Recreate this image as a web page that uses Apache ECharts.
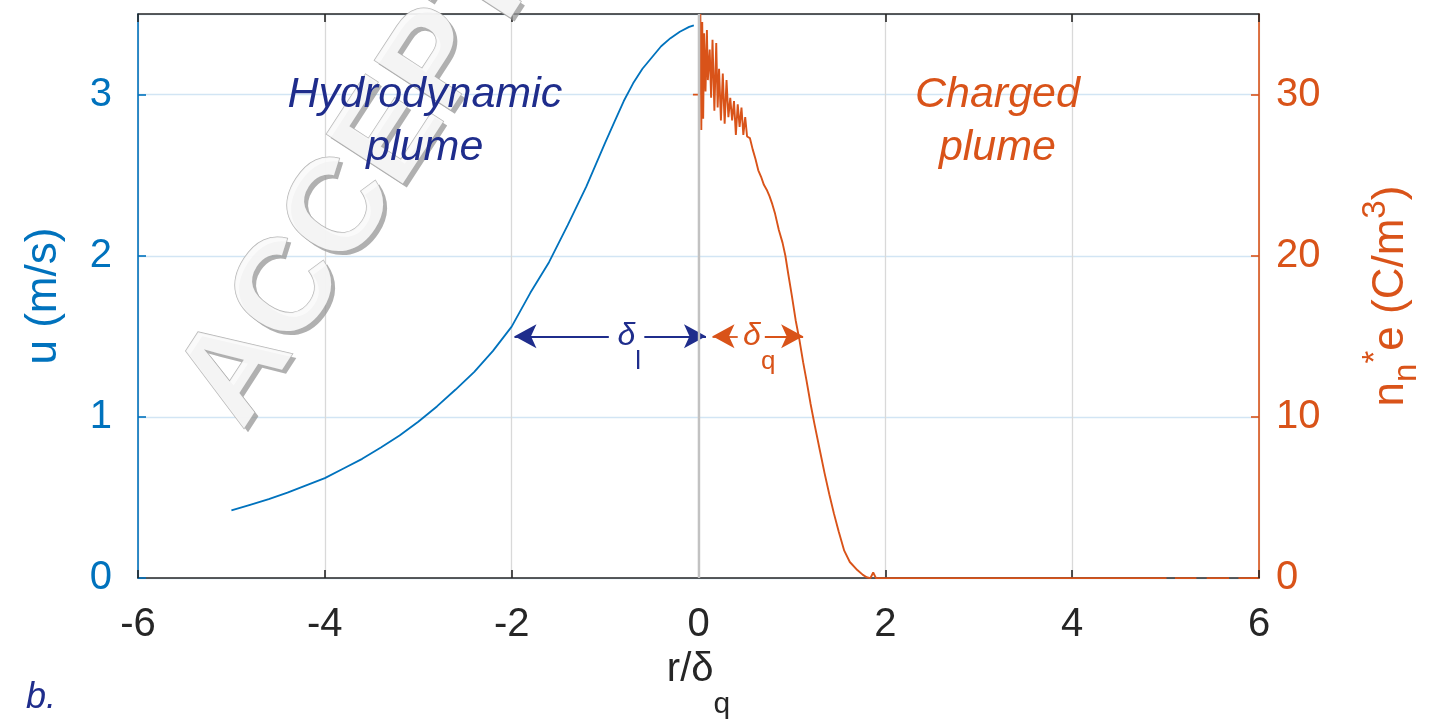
<!DOCTYPE html>
<html>
<head>
<meta charset="utf-8">
<script src="https://cdn.jsdelivr.net/npm/echarts@6/dist/echarts.min.js"></script>
<style>
  html, body { margin: 0; padding: 0; background: #ffffff; overflow: hidden; width: 100%; height: 100%; }
  #chart { width: 100vw; height: 100vh; }
</style>
</head>
<body>
<div id="chart"></div>
<script>
// Hydrodynamic plume: velocity u (m/s) against r/δq
const velocityR = [-5.0, -4.8, -4.6, -4.4, -4.2, -4.0, -3.8, -3.6, -3.4, -3.2, -3.0, -2.8, -2.6, -2.4, -2.2, -2.0,
  -1.8, -1.6, -1.4, -1.2, -1.0, -0.9, -0.8, -0.7, -0.6, -0.5, -0.4, -0.3, -0.2, -0.1, -0.05];
const velocityU = [0.42, 0.455, 0.49, 0.53, 0.575, 0.62, 0.68, 0.74, 0.81, 0.885, 0.97, 1.065, 1.17, 1.28, 1.41, 1.56,
  1.77, 1.96, 2.19, 2.43, 2.70, 2.83, 2.96, 3.07, 3.16, 3.23, 3.30, 3.35, 3.39, 3.42, 3.43];

// Charged plume: n_n*e (C/m^3) against r/δq ('-' marks a gap in the record)
const chargeR = [-0.06, 0.01, 0.02, 0.03, 0.04, 0.05, 0.06, 0.075, 0.09, 0.10, 0.12, 0.135, 0.15, 0.17, 0.19, 0.205,
  0.22, 0.24, 0.26, 0.28, 0.30, 0.32, 0.34, 0.36, 0.38, 0.40, 0.42, 0.44, 0.46, 0.48, 0.50, 0.52, 0.55, 0.58,
  0.61, 0.64, 0.67, 0.70, 0.73, 0.76, 0.79, 0.82, 0.86, 0.90, 0.93, 0.96, 1.00, 1.04, 1.08, 1.12, 1.155, 1.20,
  1.24, 1.30, 1.35, 1.40, 1.45, 1.50, 1.56, 1.62, 1.70, 1.76, 1.80, 1.84, 1.87, 1.90, 5.01, 5.05, 5.10, 5.33,
  5.38, 5.44, 5.68, 5.73, 5.78, 5.98];
const chargeN = [30.0, 30.0, 35.0, 27.8, 34.5, 28.5, 33.8, 30.2, 34.0, 30.9, 32.8, 29.8, 33.4, 29.0, 33.2, 29.2,
  31.6, 28.4, 31.3, 28.2, 30.9, 28.6, 29.8, 28.4, 29.6, 27.5, 29.4, 28.0, 29.2, 27.5, 28.6, 27.4, 27.3, 26.6,
  26.0, 25.3, 24.9, 24.4, 24.1, 23.7, 23.2, 22.6, 21.6, 20.8, 20.0, 18.9, 17.5, 16.0, 14.8, 13.4, 12.3, 10.8,
  9.6, 7.9, 6.5, 5.2, 4.0, 2.9, 1.7, 1.0, 0.5, 0.2, 0.05, 0.0, 0.35, 0.0, 0.0, '-', 0.0, 0.0,
  '-', 0.0, 0.0, '-', 0.0, 0.0];

// Width markers: δl (velocity, on the u axis) and δq (charge, on the n axis)
const deltaL = { from: -1.97, gapFrom: -0.96, gapTo: -0.58, to: 0.08, level: 1.5, labelAt: -0.74 };
const deltaQ = { from: 0.15, gapFrom: 0.42, gapTo: 0.71, to: 1.12, level: 15.0, labelAt: 0.65 };

const xTicks = { min: -6, max: 6, step: 2 };
const uTicks = { min: 0, max: 3.5, step: 1 };
const nTicks = { min: 0, max: 35, step: 10 };

const BLUE = '#0072BD';
const ORANGE = '#D95319';
const NAVY = '#1f2d8c';
const INK = '#262626';
const FONT = '"Liberation Sans", Arial, Helvetica, sans-serif';

const velocityData = velocityR.map((r, i) => [r, velocityU[i]]);
const chargeData = chargeR.map((r, i) => [r, chargeN[i]]);

const chart = echarts.init(document.getElementById('chart'), null, { renderer: 'canvas' });

function arrowPair(d) {
  return [
    [{ coord: [d.from, d.level], symbol: 'arrow' }, { coord: [d.gapFrom, d.level], symbol: 'none' }],
    [{ coord: [d.gapTo, d.level], symbol: 'none' }, { coord: [d.to, d.level], symbol: 'arrow' }]
  ];
}

// Diagonal stamp: a soft shadow layer under a light embossed layer
const stampText = 'ACCEPTED MANUSCRIPT';
const stampAngle = 57 * Math.PI / 180;
const stampFont = 'bold 132px ' + FONT;

const option = {
  backgroundColor: '#ffffff',
  animation: false,
  textStyle: { fontFamily: FONT },
  grid: { left: 138, right: 141, top: 14, bottom: 142, containLabel: false },
  xAxis: [
    {
      type: 'value', min: xTicks.min, max: xTicks.max, interval: xTicks.step, position: 'bottom',
      axisLine: { show: true, onZero: false, lineStyle: { color: INK, width: 1.6 } },
      axisTick: { show: true, inside: true, length: 8, lineStyle: { color: INK, width: 1.6 } },
      axisLabel: { color: INK, fontSize: 40, margin: 27, fontFamily: FONT },
      splitLine: { show: true, lineStyle: { color: '#d9d9d9', width: 1.3 } },
      name: '{a|r/δ}{q|q}', nameLocation: 'middle', nameGap: 63,
      nameTextStyle: {
        rich: {
          a: { fontSize: 40, color: INK, fontFamily: FONT, lineHeight: 56, verticalAlign: 'middle' },
          q: { fontSize: 30, color: INK, fontFamily: FONT, lineHeight: 30, verticalAlign: 'bottom', padding: [0, 0, -22, 0] }
        }
      }
    },
    {
      type: 'value', min: xTicks.min, max: xTicks.max, interval: xTicks.step, position: 'top',
      axisLine: { show: true, onZero: false, lineStyle: { color: INK, width: 1.6 } },
      axisTick: { show: true, inside: true, length: 8, lineStyle: { color: INK, width: 1.6 } },
      axisLabel: { show: false },
      splitLine: { show: false }
    }
  ],
  yAxis: [
    {
      type: 'value', min: uTicks.min, max: uTicks.max, interval: uTicks.step, position: 'left',
      axisLine: { show: true, onZero: false, lineStyle: { color: BLUE, width: 1.6 } },
      axisTick: { show: true, inside: true, length: 8, lineStyle: { color: BLUE, width: 1.6 } },
      axisLabel: { color: BLUE, fontSize: 40, margin: 26, fontFamily: FONT, showMaxLabel: false },
      splitLine: { show: true, lineStyle: { color: '#d2e5f4', width: 1.3 } },
      name: 'u (m/s)', nameLocation: 'middle', nameGap: 72, nameRotate: 90,
      nameTextStyle: { color: BLUE, fontSize: 44, fontFamily: FONT }
    },
    {
      type: 'value', min: nTicks.min, max: nTicks.max, interval: nTicks.step, position: 'right',
      axisLine: { show: true, onZero: false, lineStyle: { color: ORANGE, width: 1.6 } },
      axisTick: { show: true, inside: true, length: 8, lineStyle: { color: ORANGE, width: 1.6 } },
      axisLabel: { color: ORANGE, fontSize: 40, margin: 17, fontFamily: FONT, showMaxLabel: false },
      splitLine: { show: false },
      name: '{m|n}{s|n}{p|*}{m|e (C/m}{p|3}{m|)}', nameLocation: 'middle', nameGap: 100, nameRotate: 90,
      nameTextStyle: {
        rich: {
          m: { fontSize: 44, color: ORANGE, fontFamily: FONT, lineHeight: 64, verticalAlign: 'middle' },
          s: { fontSize: 33, color: ORANGE, fontFamily: FONT, lineHeight: 35, verticalAlign: 'bottom' },
          p: { fontSize: 33, color: ORANGE, fontFamily: FONT, lineHeight: 35, verticalAlign: 'top' }
        }
      }
    }
  ],
  graphic: [
    {
      type: 'text', x: 271, y: 451, rotation: stampAngle, z: 1, silent: true,
      style: {
        text: stampText, font: stampFont, fill: 'rgba(150,150,150,0.75)',
        shadowBlur: 6, shadowColor: 'rgba(0,0,0,0.25)', shadowOffsetX: 2, shadowOffsetY: 3,
        align: 'left', verticalAlign: 'bottom'
      }
    },
    {
      type: 'text', x: 267, y: 447, rotation: stampAngle, z: 2, silent: true,
      style: {
        text: stampText, font: stampFont, fill: 'rgba(250,250,250,0.92)',
        stroke: 'rgba(175,175,175,0.9)', lineWidth: 1.5,
        align: 'left', verticalAlign: 'bottom'
      }
    },
    {
      type: 'text', x: 26, y: 680, z: 5, silent: true,
      style: { text: 'b.', font: 'italic 36px ' + FONT, fill: NAVY, align: 'left', verticalAlign: 'top' }
    }
  ],
  series: [
    {
      name: 'u', type: 'line', xAxisIndex: 0, yAxisIndex: 0, data: velocityData,
      showSymbol: false, symbol: 'none', smooth: false, z: 3,
      lineStyle: { color: BLUE, width: 1.8 },
      markLine: {
        silent: true, symbol: ['none', 'none'], symbolSize: [18, 22],
        label: { show: false },
        lineStyle: { color: NAVY, width: 1.8, type: 'solid' },
        data: arrowPair(deltaL).concat([
          [{ coord: [0, uTicks.min], symbol: 'none', lineStyle: { color: '#c2c2c2', width: 2.4, type: 'solid' } },
           { coord: [0, uTicks.max], symbol: 'none' }]
        ])
      },
      markPoint: {
        silent: true, symbol: 'circle', symbolSize: 1, itemStyle: { color: 'rgba(0,0,0,0)' },
        data: [
          {
            coord: [-2.93, 2.83],
            label: {
              show: true, position: 'inside', formatter: 'Hydrodynamic\nplume',
              color: NAVY, fontSize: 43, lineHeight: 53, fontStyle: 'italic', fontFamily: FONT, align: 'center'
            }
          },
          {
            coord: [deltaL.labelAt, deltaL.level],
            label: {
              show: true, position: 'inside', formatter: '{d|δ}{s|l}',
              rich: {
                d: { fontSize: 32, color: NAVY, fontStyle: 'italic', fontFamily: FONT, lineHeight: 40, verticalAlign: 'middle' },
                s: { fontSize: 26, color: NAVY, fontFamily: FONT, lineHeight: 26, verticalAlign: 'bottom', padding: [0, 0, -18, 0] }
              }
            }
          }
        ]
      }
    },
    {
      name: 'n', type: 'line', xAxisIndex: 0, yAxisIndex: 1, data: chargeData,
      showSymbol: false, symbol: 'none', smooth: false, connectNulls: false, z: 4,
      lineStyle: { color: ORANGE, width: 1.9 },
      markLine: {
        silent: true, symbol: ['none', 'none'], symbolSize: [18, 22],
        label: { show: false },
        lineStyle: { color: ORANGE, width: 1.8, type: 'solid' },
        data: arrowPair(deltaQ)
      },
      markPoint: {
        silent: true, symbol: 'circle', symbolSize: 1, itemStyle: { color: 'rgba(0,0,0,0)' },
        data: [
          {
            coord: [3.2, 28.3],
            label: {
              show: true, position: 'inside', formatter: 'Charged\nplume',
              color: ORANGE, fontSize: 43, lineHeight: 53, fontStyle: 'italic', fontFamily: FONT, align: 'center'
            }
          },
          {
            coord: [deltaQ.labelAt, deltaQ.level],
            label: {
              show: true, position: 'inside', formatter: '{d|δ}{s|q}',
              rich: {
                d: { fontSize: 32, color: ORANGE, fontStyle: 'italic', fontFamily: FONT, lineHeight: 40, verticalAlign: 'middle' },
                s: { fontSize: 26, color: ORANGE, fontFamily: FONT, lineHeight: 26, verticalAlign: 'bottom', padding: [0, 0, -18, 0] }
              }
            }
          }
        ]
      }
    }
  ]
};

chart.setOption(option);
window.addEventListener('resize', () => chart.resize());
</script>
</body>
</html>
